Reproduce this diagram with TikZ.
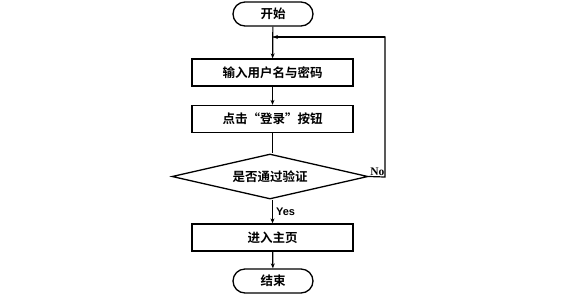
\documentclass[tikz,border=0pt]{standalone}
\usepackage{fontspec}
\setmainfont{Liberation Serif}
\newfontfamily\cjk{Noto Sans CJK SC}[BoldFont={* Bold}]
\newfontfamily\lsans{Liberation Sans}
\newcommand{\fw}[1]{{\addfontfeature{CharacterWidth=Full}#1}}
\usetikzlibrary{shapes.geometric,arrows.meta}
\begin{document}
\begin{tikzpicture}[x=1pt,y=-1pt,
  every node/.style={inner sep=0pt},
  proc/.style={draw, line width=1.3pt, minimum width=161pt, minimum height=27pt, font=\cjk\bfseries\fontsize{12.5}{14}\selectfont},
  term/.style={draw, line width=1.3pt, rounded corners=12pt, minimum width=80pt, minimum height=24pt, font=\cjk\bfseries\fontsize{12.5}{14}\selectfont},
  dec/.style={draw, line width=1.3pt, diamond, aspect=4.3, minimum width=196pt, minimum height=45pt, font=\cjk\bfseries\fontsize{12.5}{14}\selectfont},
  arr/.style={draw, line width=1.2pt, -{Stealth[length=5pt,width=4pt]}},
  lab/.style={font=\bfseries\fontsize{11.5}{12}\selectfont}
]
\useasboundingbox (0,0) rectangle (585,301);
\node[term] (start) at (273,14) {开始};
\node[proc] (input) at (272.5,72.5) {输入用户名与密码};
\node[proc] (click) at (272.5,119) {点击\fw{“}登录\fw{”}按钮};
\node[dec] (check) at (270,176.5) {是否通过验证};
\node[proc] (home) at (272.5,237.5) {进入主页};
\node[term] (end) at (273,281) {结束};
\coordinate (j) at (273,37);
\coordinate (r1) at (385,177);
\coordinate (r2) at (385,37);
\draw[arr] (start) -- (input);
\draw[arr] (input) -- (click);
\draw[line width=1.2pt] (click.south) -- (click.south |- check.north);
\draw[arr] (check.south -| home.north) -- node[right=3pt, lab, font=\lsans\bfseries\fontsize{11}{12}\selectfont] {Yes} (home);
\draw[arr] (home) -- (end);
\draw[line width=1.2pt] (check.east) -- (r1) -- (r2) -- (j);
\draw[arr] (r2) -- (j);
\node[lab, anchor=south east] (no) at (384.5,175.5) {No};
\end{tikzpicture}
\end{document}
